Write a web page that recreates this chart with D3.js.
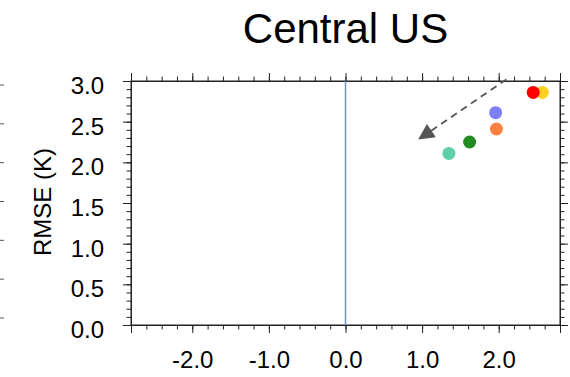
<!DOCTYPE html>
<html>
<head>
<meta charset="utf-8">
<script src="https://cdn.jsdelivr.net/npm/d3@7"></script>
<style>
  body { margin: 0; background: #fff; }
  text { font-family: "Liberation Sans", Arial, Helvetica, sans-serif; }
</style>
</head>
<body>
<div id="chart"></div>
<script>
const width = 570;
const height = 377;
const margin = { left: 131, right: 10, top: 81, bottom: 52 };

const title = "Central US";
const yLabel = "RMSE (K)";

// models drawn back to front (gold sits under red)
const pointColors = ["#ffd21f", "#ff0000", "#7f7ff5", "#ff8040", "#228b22", "#5fcfa8"];
const xValues = [2.57, 2.45, 1.96, 1.97, 1.62, 1.35];
const yValues = [2.86, 2.86, 2.61, 2.41, 2.25, 2.11];

// dashed arrow [x, y] in data units
const arrowFrom = [2.1, 3.02];
const arrowTo = [0.93, 2.27];

const xDomain = [-2.8, 2.8];
const yDomain = [0, 3];
const xTickValues = [-2, -1, 0, 1, 2];
const yTickValues = [0, 0.5, 1, 1.5, 2, 2.5, 3];

const fmt = (d) => d3.format(".1f")(d).replace("\u2212", "-");

const svg = d3
  .select("#chart")
  .append("svg")
  .attr("width", width)
  .attr("height", height);

const xScale = d3
  .scaleLinear()
  .domain(xDomain)
  .range([margin.left, width - margin.right]);

const yScale = d3
  .scaleLinear()
  .domain(yDomain)
  .range([height - margin.bottom, margin.top]);

const xMinor = d3.range(-28, 29, 2).map((d) => d / 10);
const yMinor = d3.range(0, 31, 1).map((d) => d / 10);

const axisColor = "#222";

// minor ticks on all four sides
const minorX = (axis) =>
  axis(xScale).tickValues(xMinor).tickSize(4.5).tickFormat("");
const minorY = (axis) =>
  axis(yScale).tickValues(yMinor).tickSize(4.5).tickFormat("");

svg.append("g")
  .attr("transform", `translate(0, ${yScale(0)})`)
  .call(minorX(d3.axisBottom));
svg.append("g")
  .attr("transform", `translate(0, ${yScale(3)})`)
  .call(minorX(d3.axisTop));
svg.append("g")
  .attr("transform", `translate(${xScale(-2.8)}, 0)`)
  .call(minorY(d3.axisLeft));
svg.append("g")
  .attr("transform", `translate(${xScale(2.8)}, 0)`)
  .call(minorY(d3.axisRight));

// major ticks with labels
svg.append("g")
  .attr("class", "x-axis")
  .attr("transform", `translate(0, ${yScale(0)})`)
  .call(
    d3.axisBottom(xScale)
      .tickValues(xTickValues)
      .tickSize(8)
      .tickPadding(18)
      .tickFormat(fmt)
  )
  .call((g) => g.selectAll("text").attr("font-size", 24).attr("fill", "#000"));

svg.append("g")
  .attr("transform", `translate(0, ${yScale(3)})`)
  .call(d3.axisTop(xScale).tickValues(xTickValues).tickSize(8).tickFormat(""));

svg.append("g")
  .attr("class", "y-axis")
  .attr("transform", `translate(${xScale(-2.8)}, 0)`)
  .call(
    d3.axisLeft(yScale)
      .tickValues(yTickValues)
      .tickSize(8)
      .tickPadding(19)
      .tickFormat(fmt)
  )
  .call((g) =>
    g.selectAll("text")
      .attr("font-size", 24)
      .attr("fill", "#000")
      .attr("dy", "0.52em")
  );

svg.append("g")
  .attr("transform", `translate(${xScale(2.8)}, 0)`)
  .call(d3.axisRight(yScale).tickValues(yTickValues).tickSize(8).tickFormat(""));

svg.selectAll(".domain").attr("stroke", axisColor);
svg.selectAll(".tick line").attr("stroke", axisColor);

// frame
svg.append("rect")
  .attr("x", xScale(-2.8))
  .attr("y", yScale(3))
  .attr("width", xScale(2.8) - xScale(-2.8))
  .attr("height", yScale(0) - yScale(3))
  .attr("fill", "none")
  .attr("stroke", axisColor);

// zero line
svg.append("line")
  .attr("x1", xScale(0))
  .attr("x2", xScale(0))
  .attr("y1", yScale(0))
  .attr("y2", yScale(3))
  .attr("stroke", "#6f8fe6")
  .attr("stroke-width", 1.5);

// ticks of the neighbouring panel cut off at the left edge
const neighbourScale = d3.scaleLinear().domain(yDomain).range([318, 85]);
svg.append("g")
  .selectAll("line")
  .data(yTickValues)
  .join("line")
  .attr("x1", 0)
  .attr("x2", 4)
  .attr("y1", (d) => neighbourScale(d))
  .attr("y2", (d) => neighbourScale(d))
  .attr("stroke", "#555");

// arrow
const defs = svg.append("defs");
defs.append("marker")
  .attr("id", "head")
  .attr("viewBox", "0 0 10 10")
  .attr("refX", 2)
  .attr("refY", 5)
  .attr("markerUnits", "userSpaceOnUse")
  .attr("markerWidth", 17)
  .attr("markerHeight", 16)
  .attr("orient", "auto")
  .append("path")
  .attr("d", "M0,0 L10,5 L0,10 Z")
  .attr("fill", "#555");

svg.append("line")
  .attr("x1", xScale(arrowFrom[0]))
  .attr("y1", yScale(arrowFrom[1]))
  .attr("x2", xScale(arrowTo[0]) + 12)
  .attr("y2", yScale(arrowTo[1]) - 8)
  .attr("stroke", "#555")
  .attr("stroke-width", 1.8)
  .attr("stroke-dasharray", "7,5")
  .attr("marker-end", "url(#head)");

// points
svg.append("g")
  .selectAll("circle")
  .data(xValues.map((x, i) => ({ x: x, y: yValues[i], color: pointColors[i] })))
  .join("circle")
  .attr("cx", (d) => xScale(d.x))
  .attr("cy", (d) => yScale(d.y))
  .attr("r", 6.5)
  .attr("fill", (d) => d.color);

// title and y label
svg.append("text")
  .attr("x", xScale(0))
  .attr("y", 43)
  .attr("text-anchor", "middle")
  .attr("font-size", 42)
  .text(title);

svg.append("text")
  .attr("transform", `translate(51, ${(yScale(0) + yScale(3)) / 2 - 1}) rotate(-90)`)
  .attr("text-anchor", "middle")
  .attr("font-size", 24)
  .text(yLabel);
</script>
</body>
</html>
